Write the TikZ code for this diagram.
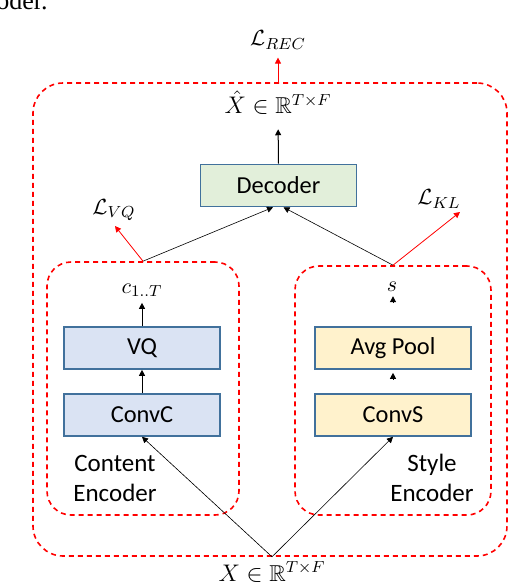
\documentclass[tikz,border=0pt]{standalone}
\usepackage{fontspec}
\usepackage{amsmath,amssymb}
\usetikzlibrary{positioning, arrows.meta, calc}
\newfontfamily\boxfont{Carlito}
\newfontfamily\capfont{Liberation Serif}
\definecolor{blkline}{HTML}{41719C}
\definecolor{contfill}{HTML}{DAE3F3}
\definecolor{stylfill}{HTML}{FFF2CC}
\definecolor{decfill}{HTML}{E2EFDA}
\definecolor{lossred}{HTML}{FF0000}

\begin{document}
\begin{tikzpicture}[x=0.5pt, y=-0.5pt,
    blk/.style={draw=blkline, line width=0.8pt, minimum width=78pt, minimum height=21pt,
                inner sep=0pt, font=\boxfont\fontsize{12.2}{14}\selectfont},
    grp/.style={draw=lossred, line width=0.8pt, dash pattern=on 2.5pt off 2pt,
                rounded corners=12pt, inner sep=0pt},
    lbl/.style={font=\fontsize{11}{13}\selectfont, inner sep=1pt},
    grptxt/.style={font=\boxfont\fontsize{12.5}{15}\selectfont, align=center},
    arr/.style={line width=0.5pt, -{Triangle[length=3pt, width=3pt]}},
    thinarr/.style={line width=0.3pt, -{Triangle[length=3pt, width=3pt]}},
    lossarr/.style={lossred, line width=0.4pt, -{Triangle[length=3pt, width=3pt]}}]
    \useasboundingbox (0,0) rectangle (508,584);
    % caption fragment above
    \node[font=\capfont\fontsize{13}{15}\selectfont, anchor=base east, inner sep=0pt] (cap) at (48,9) {oder.};
    % groups
    \node[grp, rounded corners=15pt, minimum width=237pt, minimum height=236.5pt] (outer) at (270,319.5) {};
    \node[grp, minimum width=96pt, minimum height=126.5pt] (cenc) at (143,388.5) {};
    \node[grp, minimum width=98pt, minimum height=124.5pt] (senc) at (393,390.5) {};
    % blocks
    \node[blk, fill=decfill] (dec) at (278.5,185.5) {Decoder};
    \node[blk, fill=contfill] (vq) at (142,348) {VQ};
    \node[blk, fill=contfill] (convc) at (142,415) {ConvC};
    \node[blk, fill=stylfill] (avg) at (393,348) {Avg Pool};
    \node[blk, fill=stylfill] (convs) at (393,415) {ConvS};
    % labels
    \node[lbl] (lrec) at (278,40) {$\mathcal{L}_{REC}$};
    \node[lbl, font=\fontsize{11.5}{13}\selectfont] (xhat) at (278,103) {$\hat{X}\in\mathbb{R}^{T\times F}$};
    \node[lbl] (lvq) at (114,210) {$\mathcal{L}_{VQ}$};
    \node[lbl] (lkl) at (439,199) {$\mathcal{L}_{KL}$};
    \node[lbl] (c) at (142,290) {$c_{1..T}$};
    \node[lbl] (s) at (392,287) {$s$};
    \node[lbl, font=\fontsize{11.5}{13}\selectfont] (x) at (272,572) {$X\in\mathbb{R}^{T\times F}$};
    \node[grptxt] (ctxt) at (115,478) {Content\\Encoder};
    \node[grptxt] (stxt) at (432,478) {Style\\Encoder};
    \coordinate (vqtip) at (115,226);
    \coordinate (kltip) at (460,212);
    % connectors
    \draw[arr] (dec.north) -- (xhat.south) [shorten >=6pt];
    \draw[lossarr] (outer.north -| lrec) -- (lrec.south) [shorten >=3pt];
    \draw[thinarr] (cenc.north) -- ([xshift=-2.75pt]dec.south);
    \draw[thinarr] (senc.north) -- ([xshift=2.5pt]dec.south);
    \draw[lossarr] (cenc.north) -- (vqtip);
    \draw[lossarr] (senc.north) -- (kltip);
    \draw[arr] (convc.north) -- (vq.south);
    \draw[arr] (vq.north) -- (c.south) [shorten >=2pt];
    \draw[arr] ([yshift=-5pt]avg.south) -- ([yshift=-1.5pt]avg.south);
    \draw[arr] ([yshift=11.5pt]avg.north) -- ([yshift=15pt]avg.north);
    \draw[thinarr] (outer.south -| x) -- (convc.south);
    \draw[thinarr] (outer.south -| x) -- (convs.south);
\end{tikzpicture}
\end{document}
